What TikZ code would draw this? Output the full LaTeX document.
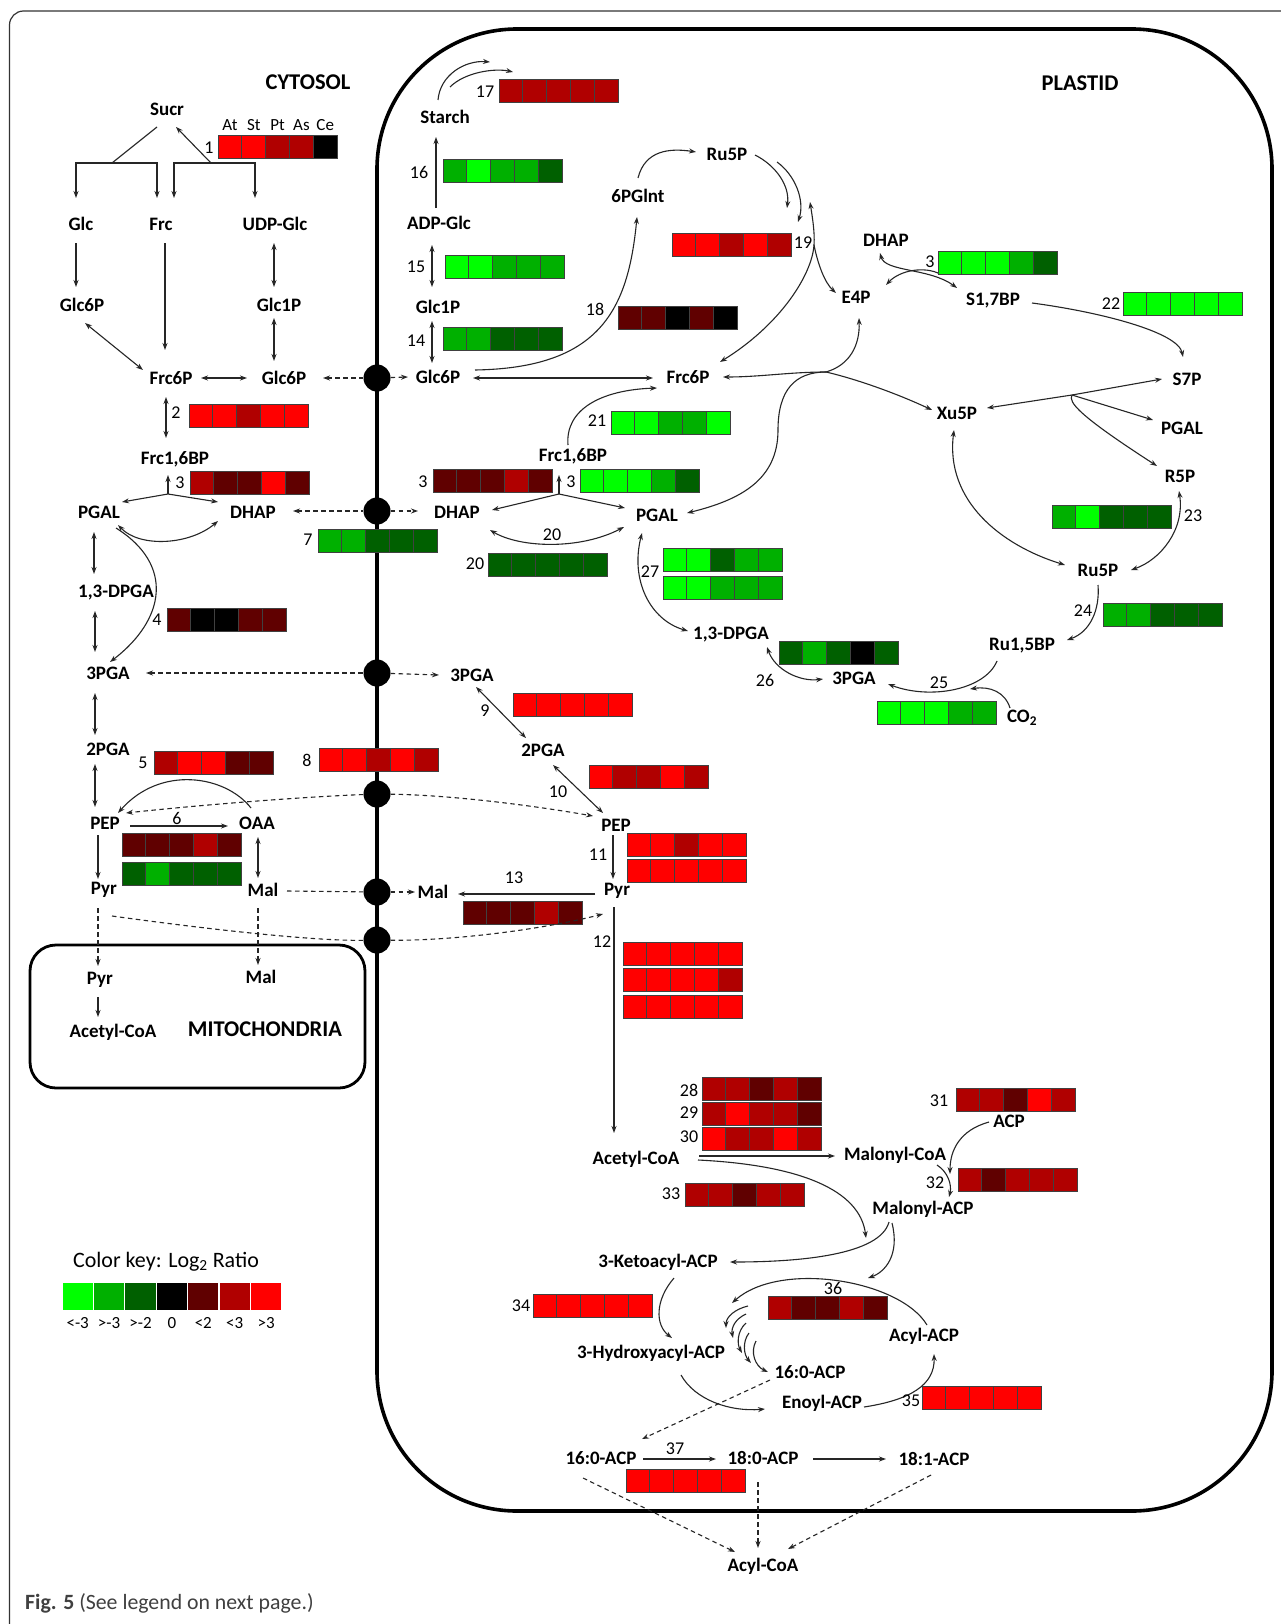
\documentclass[tikz,border=0pt]{standalone}
\usepackage{fontspec}
\setmainfont{Carlito}
\usetikzlibrary{arrows.meta,calc}
\definecolor{hG}{RGB}{0,255,0}
\definecolor{hg}{RGB}{0,176,0}
\definecolor{hd}{RGB}{0,96,0}
\definecolor{hK}{RGB}{0,0,0}
\definecolor{hD}{RGB}{96,0,0}
\definecolor{hr}{RGB}{176,0,0}
\definecolor{hR}{RGB}{255,0,0}
\newcommand{\heat}[3]{\foreach \hc [count=\hi from 0] in {#3}{\filldraw[fill=\hc,draw=black!75,line width=0.9pt] ({#1+\hi*23.8},{#2}) rectangle ++(23.8,23);}}
\newcommand{\mf}{\fontsize{19}{22}\selectfont\bfseries}
\newcommand{\nf}{\fontsize{18}{21}\selectfont}
\newcommand{\tf}{\fontsize{22.5}{26}\selectfont\bfseries}
\tikzset{
  met/.style={font=\mf, inner sep=2pt},
  num/.style={font=\nf, inner sep=0pt},
  ttl/.style={font=\tf, inner sep=0pt},
  ln/.style={draw=black!85, line width=1.1pt},
  arr/.style={ln, -{Stealth[length=7pt,width=5pt]}},
  arrB/.style={ln, {Stealth[length=7pt,width=5pt]}-{Stealth[length=7pt,width=5pt]}},
  arrR/.style={ln, {Stealth[length=7pt,width=5pt]}-},
  dsh/.style={dash pattern=on 4.5pt off 3.5pt},
  tport/.style={circle, fill=black, inner sep=0pt, minimum size=27pt},
}
\begin{document}
\begin{tikzpicture}[x=1pt,y=-1pt]
\useasboundingbox (0,0) rectangle (1281,1624);
\fill[white] (0,0) rectangle (1281,1624);
\begin{scope}
\clip (0,0) rectangle (1281,1624);
\draw[black!80,line width=1.2pt,rounded corners=14pt] (9.5,11) rectangle (1320,1645);
\end{scope}
% compartments
\draw[line width=3.6pt, rounded corners=140pt] (377,29) rectangle (1272,1511);
\draw[line width=2.8pt, rounded corners=26pt] (30,945) rectangle (365,1088);
\node[tport] (t1) at (377,378) {};
\node[tport] (t2) at (377,511) {};
\node[tport] (t3) at (377,673) {};
\node[tport] (t4) at (377,794) {};
\node[tport] (t5) at (377,892) {};
\node[tport] (t6) at (377,940) {};
% titles
\node[ttl] (cyt) at (308,82) {CYTOSOL};
\node[ttl] (pla) at (1080,83) {PLASTID};
\node[ttl] (mit) at (265,1029) {MITOCHONDRIA};
% cytosol metabolites
\node[met] (sucr) at (167,109) {Sucr};
\node[met] (glc) at (81,224) {Glc};
\node[met] (frc) at (161,224) {Frc};
\node[met] (udpglc) at (275,224) {UDP-Glc};
\node[met] (glc6pL) at (82,305) {Glc6P};
\node[met] (glc1pC) at (279,305) {Glc1P};
\node[met] (frc6pC) at (171,378) {Frc6P};
\node[met] (glc6pC) at (284,378) {Glc6P};
\node[met] (frcbpC) at (175,459) {Frc1,6BP};
\node[met] (pgalC) at (99,512) {PGAL};
\node[met] (dhapC) at (253,512) {DHAP};
\node[met] (dpgaC) at (116,593) {1,3-DPGA};
\node[met] (pgaC3) at (108,673) {3PGA};
\node[met] (pgaC2) at (108,749) {2PGA};
\node[met] (pepC) at (105,823) {PEP};
\node[met] (oaa) at (257,823) {OAA};
\node[met] (pyrC) at (104,890) {Pyr};
\node[met] (malC) at (263,890) {Mal};
\node[met] (pyrM) at (100,980) {Pyr};
\node[met] (malM) at (261,977) {Mal};
\node[met] (accoaM) at (113,1032) {Acetyl-CoA};
% plastid metabolites
\node[met] (starch) at (445,117) {Starch};
\node[met] (adpglc) at (439,223) {ADP-Glc};
\node[met] (glc1pP) at (438,307) {Glc1P};
\node[met] (glc6pP) at (438,377) {Glc6P};
\node[met] (frc6pP) at (688,377) {Frc6P};
\node[met] (pglnt) at (638,196) {6PGlnt};
\node[met] (ru5pU) at (727,154) {Ru5P};
\node[met] (e4p) at (856,297) {E4P};
\node[met] (dhapU) at (886,240) {DHAP};
\node[met] (s17bp) at (993,301) {S1,7BP};
\node[met] (s7p) at (1187,379) {S7P};
\node[met] (xu5p) at (957,413) {Xu5P};
\node[met] (pgalR) at (1182,428) {PGAL};
\node[met] (r5p) at (1180,476) {R5P};
\node[met] (ru5pL) at (1098,570) {Ru5P};
\node[met] (rubp) at (1022,646) {Ru1,5BP};
\node[met] (dpgaP) at (731,635) {1,3-DPGA};
\node[met] (pgaR) at (854,678) {3PGA};
\node[met] (co2) at (1022,718) {CO\textsubscript{2}};
\node[met] (frcbpP) at (573,456) {Frc1,6BP};
\node[met] (dhapP) at (457,512) {DHAP};
\node[met] (pgalP) at (657,515) {PGAL};
\node[met] (pgaP3) at (472,675) {3PGA};
\node[met] (pgaP2) at (543,750) {2PGA};
\node[met] (pepP) at (616,825) {PEP};
\node[met] (pyrP) at (617,891) {Pyr};
\node[met] (malP) at (433,892) {Mal};
\node[met] (accoaP) at (636,1159) {Acetyl-CoA};
\node[met] (malcoa) at (895,1155) {Malonyl-CoA};
\node[met] (acp) at (1009,1121) {ACP};
\node[met] (malacp) at (923,1209) {Malonyl-ACP};
\node[met] (keto) at (658,1262) {3-Ketoacyl-ACP};
\node[met] (hydroxy) at (651,1353) {3-Hydroxyacyl-ACP};
\node[met] (palm) at (810,1372) {16:0-ACP};
\node[met] (enoyl) at (822,1403) {Enoyl-ACP};
\node[met] (acylacp) at (924,1336) {Acyl-ACP};
\node[met] (palmL) at (601,1458) {16:0-ACP};
\node[met] (stear) at (763,1458) {18:0-ACP};
\node[met] (olei) at (934,1459) {18:1-ACP};
\node[met] (acylcoa) at (763,1566) {Acyl-CoA};
% ---------------- cytosol connectors
\coordinate (jL) at (112,163);
\coordinate (jR) at (211,163);
\draw[ln] ($(sucr)+(-10,18)$) -- (jL);
\draw[arr] (jL) -| ($(glc)+(-5,-26)$);
\draw[arr] (jL) -| ($(frc)+(-4,-26)$);
\draw[arr] (jR) -- ($(sucr)+(9,18)$);
\draw[arr] (jR) -| ($(frc)+(13,-26)$);
\draw[arr] (jR) -| ($(udpglc)+(-20,-26)$);
\draw[arr] ($(glc)+(-5,19)$) -- ($(glc6pL)+(-6,-18)$);
\draw[arr] ($(frc)+(4,19)$) -- ($(frc6pC)+(-6,-28)$);
\draw[arrB] ($(udpglc)+(-1,19)$) -- ($(glc1pC)+(-5,-18)$);
\draw[arrB] ($(glc1pC)+(-5,13)$) -- ($(glc6pC)+(-10,-17)$);
\draw[arrB] ($(glc6pL)+(3,18)$) -- ($(frc6pC)+(-28,-8)$);
\draw[arrB] ($(frc6pC)+(30,0)$) -- ($(glc6pC)+(-37,0)$);
\draw[arrR,dsh] ($(glc6pC)+(39,0)$) -- (t1);
\draw[arr,dsh] (t1) -- ($(glc6pP)+(-30,0)$);
\draw[arrB] ($(frc6pC)+(-5,19)$) -- ($(frcbpC)+(-9,-21)$);
\coordinate (jA) at (168,494);
\draw[arr] (jA) -- ($(frcbpC)+(-7,16)$);
\draw[arr] (jA) -- ($(pgalC)+(23,-10)$);
\draw[arr] (jA) -- ($(dhapC)+(-35,-10)$);
\draw[arrB] ($(pgalC)+(19,13)$) .. controls (140,548) and (190,545) .. ($(dhapC)+(-35,9)$);
\draw[arrB] ($(pgalC)+(-5,20)$) -- ($(dpgaC)+(-22,-19)$);
\draw[arrB] ($(dpgaC)+(-21,18)$) -- ($(pgaC3)+(-13,-21)$);
\draw[arr] ($(pgalC)+(17,16)$) .. controls (175,565) and (165,620) .. ($(pgaC3)+(2,-11)$);
\draw[arrR,dsh] ($(dhapC)+(40,-1)$) -- (t2);
\draw[arr,dsh] (t2) -- ($(dhapP)+(-39,-1)$);
\draw[arrR,dsh] ($(pgaC3)+(38,0)$) -- (t3);
\draw[arr,dsh] (t3) -- ($(pgaP3)+(-33,0)$);
\draw[arrB] ($(pgaC3)+(-13,20)$) -- ($(pgaC2)+(-13,-14)$);
\draw[arrB] ($(pgaC2)+(-13,15)$) -- ($(pepC)+(-10,-16)$);
\draw[arr] ($(pepC)+(25,3)$) -- ($(oaa)+(-29,3)$);
\draw[arr] ($(oaa)+(-6,-15)$) .. controls (225,775) and (160,765) .. ($(pepC)+(13,-10)$);
\draw[arr,dsh] (t4) .. controls (300,797) and (200,805) .. ($(pepC)+(21,-10)$);
\draw[arr,dsh] (t4) .. controls (450,795) and (530,805) .. ($(pepP)+(-23,-9)$);
\draw[arrB] ($(oaa)+(1,14)$) -- ($(malC)+(-5,-12)$);
\draw[arr] ($(pepC)+(-7,12)$) -- ($(pyrC)+(-6,-11)$);
\draw[ln,dsh] ($(malC)+(24,1)$) -- (t5);
\draw[arr,dsh] (t5) -- ($(malP)+(-18,0)$);
\draw[arr,dsh] ($(pyrC)+(-6,18)$) -- ($(pyrM)+(-2,-14)$);
\draw[arr] ($(pyrM)+(-2,17)$) -- ($(accoaM)+(-15,-15)$);
\draw[arr,dsh] ($(malC)+(-5,18)$) -- ($(malM)+(-3,-12)$);
\draw[ln,dsh] ($(pyrC)+(8,26)$) .. controls (250,935) and (330,941) .. (t6);
% ---------------- plastid connectors
\draw[arr] ($(adpglc)+(-3,-15)$) -- ($(starch)+(-9,20)$);
\coordinate (s17a) at (490,62);
\coordinate (s17b) at (513,72);
\draw[arr] ($(starch)+(-7,-17)$) .. controls (440,75) and (465,60) .. (s17a);
\draw[arr] ($(starch)+(5,-30)$) .. controls (465,72) and (495,68) .. (s17b);
\draw[arrB] ($(adpglc)+(-7,22)$) -- ($(glc1pP)+(-6,-20)$);
\draw[arrB] ($(glc1pP)+(-6,14)$) -- ($(glc6pP)+(-6,-14)$);
\draw[arrB] ($(glc6pP)+(35,1)$) -- ($(frc6pP)+(-35,1)$);
\draw[arr] ($(glc6pP)+(37,-7)$) .. controls (600,368) and (628,310) .. ($(pglnt)+(-1,21)$);
\draw[arr] ($(pglnt)+(0,-18)$) .. controls (645,150) and (670,148) .. ($(ru5pU)+(-31,-2)$);
\coordinate (c19a) at (787,208);
\coordinate (c19b) at (798,222);
\coordinate (c19c) at (810,202);
\draw[arr] ($(ru5pU)+(28,1)$) .. controls (775,165) and (790,185) .. (c19a);
\draw[arr] ($(ru5pU)+(50,8)$) .. controls (795,175) and (805,200) .. (c19b);
\coordinate (J2) at (814,245);
\draw[arr] (J2) .. controls (815,232) and (812,215) .. (c19c);
\draw[arr] (J2) .. controls (812,275) and (780,325) .. ($(frc6pP)+(32,-15)$);
\draw[arr] (J2) .. controls (818,265) and (825,283) .. ($(e4p)+(-20,-4)$);
\coordinate (J1) at (826,372);
\draw[arr] (J1) .. controls (790,372) and (760,377) .. ($(frc6pP)+(35,0)$);
\draw[arr] (J1) .. controls (860,380) and (900,395) .. ($(xu5p)+(-25,-3)$);
\draw[arr] (J1) .. controls (850,365) and (860,345) .. ($(e4p)+(3,21)$);
\draw[arr] (J1) .. controls (795,372) and (778,390) .. (778,430) .. controls (778,480) and (740,500) .. ($(pgalP)+(30,-2)$);
\draw[arrB] ($(dhapU)+(-6,13)$) .. controls (885,272) and (930,268) .. ($(s17bp)+(-36,-13)$);
\coordinate (c3u) at (940,274);
\draw[arrR] ($(e4p)+(30,-12)$) .. controls (900,270) and (925,266) .. (c3u);
\draw[arr] ($(s17bp)+(39,2)$) .. controls (1100,312) and (1178,332) .. ($(s7p)+(-4,-22)$);
\coordinate (J3) at (1072,395);
\draw[arrB] ($(xu5p)+(30,-5)$) -- (J3) -- ($(s7p)+(-25,0)$);
\draw[arr] (J3) -- ($(pgalR)+(-29,-8)$);
\draw[arr] (J3) .. controls (1068,402) and (1078,415) .. ($(r5p)+(-23,-10)$);
\draw[arrB] ($(r5p)+(-1,15)$) .. controls (1185,530) and (1160,560) .. ($(ru5pL)+(33,0)$);
\draw[arrB] ($(xu5p)+(-3,17)$) .. controls (945,500) and (1000,545) .. ($(ru5pL)+(-33,-5)$);
\draw[arr] ($(ru5pL)+(0,15)$) .. controls (1100,610) and (1090,632) .. ($(rubp)+(45,-6)$);
\draw[arr] ($(rubp)+(-25,15)$) .. controls (985,690) and (930,700) .. ($(pgaR)+(34,6)$);
\coordinate (c25) at (970,689);
\draw[arr] ($(co2)+(-12,-10)$) .. controls (1005,692) and (990,686) .. (c25);
\draw[arrB] ($(dpgaP)+(36,12)$) .. controls (775,670) and (800,682) .. ($(pgaR)+(-31,1)$);
\coordinate (jP) at (559,494);
\draw[arr] (jP) -- ($(frcbpP)+(-14,19)$);
\draw[arr] (jP) -- ($(dhapP)+(35,-2)$);
\draw[arr] (jP) -- ($(pgalP)+(-32,-7)$);
\draw[arr] ($(frcbpP)+(-5,-11)$) .. controls (565,410) and (600,390) .. ($(frc6pP)+(-31,11)$);
\draw[arrB] ($(dhapP)+(33,18)$) .. controls (520,548) and (580,550) .. ($(pgalP)+(-33,12)$);
\draw[arrB] ($(pgalP)+(-15,18)$) .. controls (630,580) and (650,620) .. ($(dpgaP)+(-43,-4)$);
\draw[arrB] ($(pgaP3)+(4,12)$) -- ($(pgaP2)+(-17,-12)$);
\draw[arrB] ($(pgaP2)+(10,15)$) -- ($(pepP)+(-13,-12)$);
\draw[arr] ($(pepP)+(-3,10)$) -- ($(pyrP)+(-4,-12)$);
\draw[arr] ($(pyrP)+(-22,3)$) -- ($(malP)+(25,2)$);
\draw[arr] ($(pyrP)+(-3,16)$) -- ($(accoaP)+(-22,-26)$);
\draw[arr] ($(accoaP)+(63,-3)$) -- ($(malcoa)+(-60,1)$);
\draw[arr] ($(acp)+(-20,1)$) .. controls (960,1130) and (950,1150) .. ($(malacp)+(27,-35)$);
\draw[arr] ($(malcoa)+(42,10)$) .. controls (948,1172) and (952,1185) .. ($(malacp)+(26,-12)$);
\coordinate (cK) at (866,1238);
\coordinate (cC) at (868,1278);
\draw[arr] ($(accoaP)+(62,1)$) .. controls (800,1165) and (860,1190) .. (cK);
\draw[arr] ($(malacp)+(-34,13)$) .. controls (880,1255) and (800,1262) .. ($(keto)+(72,0)$);
\draw[arr] ($(malacp)+(-31,14)$) .. controls (900,1255) and (885,1272) .. (cC);
\draw[arr] ($(keto)+(16,16)$) .. controls (655,1300) and (655,1325) .. ($(hydroxy)+(21,-15)$);
\draw[arr] ($(hydroxy)+(30,22)$) .. controls (695,1400) and (730,1412) .. ($(enoyl)+(-57,6)$);
\draw[arr] ($(enoyl)+(42,4)$) .. controls (910,1400) and (935,1385) .. ($(acylacp)+(10,18)$);
\coordinate (cF) at (732,1303);
\draw[arr] ($(acylacp)+(3,-11)$) .. controls (900,1280) and (780,1260) .. (cF);
\draw[arr] (748,1306) .. controls (735,1309) and (726,1317) .. (726,1328);
\draw[arr] (746,1314) .. controls (735,1319) and (731,1328) .. (733,1338);
\draw[arr] (746,1323) .. controls (737,1331) and (737,1344) .. (742,1353);
\draw[arr] (749,1333) .. controls (742,1342) and (744,1355) .. (751,1363);
\draw[arr] (756,1341) .. controls (750,1352) and (755,1366) .. ($(palm)+(-42,0)$);
\draw[arr,dsh] ($(palm)+(-40,8)$) -- ($(palmL)+(41,-19)$);
\draw[arr] ($(palmL)+(42,1)$) -- ($(stear)+(-47,1)$);
\draw[arr] ($(stear)+(50,1)$) -- ($(olei)+(-48,0)$);
\draw[arr,dsh] ($(palmL)+(-18,20)$) -- ($(acylcoa)+(-28,-14)$);
\draw[arr,dsh] ($(stear)+(-5,24)$) -- ($(acylcoa)+(-5,-18)$);
\draw[arr,dsh] ($(olei)+(-3,16)$) -- ($(acylcoa)+(25,-17)$);
% ---------------- heat boxes
\heat{218}{135}{hR,hR,hr,hr,hK}
\heat{189}{404}{hR,hR,hr,hR,hR}
\heat{190}{471}{hr,hD,hD,hR,hD}
\heat{167}{608}{hD,hK,hK,hD,hD}
\heat{154}{751}{hr,hR,hR,hD,hD}
\heat{122}{833}{hD,hD,hD,hr,hD}
\heat{122}{862}{hd,hg,hd,hd,hd}
\heat{318}{529}{hg,hg,hd,hd,hd}
\heat{319}{748}{hR,hR,hr,hR,hr}
\heat{499}{79}{hr,hr,hr,hr,hr}
\heat{443}{159}{hg,hG,hg,hg,hd}
\heat{445}{255}{hG,hG,hg,hg,hg}
\heat{443}{327}{hg,hg,hd,hd,hd}
\heat{618}{306}{hD,hD,hK,hD,hK}
\heat{672}{233}{hR,hR,hr,hR,hr}
\heat{938}{251}{hG,hG,hG,hg,hd}
\heat{1123}{292}{hG,hG,hG,hG,hG}
\heat{611}{411}{hG,hG,hg,hg,hG}
\heat{433}{469}{hD,hD,hD,hr,hD}
\heat{580}{469}{hG,hG,hG,hg,hd}
\heat{488}{553}{hd,hd,hd,hd,hd}
\heat{663}{548}{hG,hG,hd,hg,hg}
\heat{663}{576}{hG,hG,hg,hg,hg}
\heat{1052}{505}{hg,hG,hd,hd,hd}
\heat{1103}{603}{hg,hg,hd,hd,hd}
\heat{779}{641}{hd,hg,hd,hK,hd}
\heat{877}{701}{hG,hG,hG,hg,hg}
\heat{513}{693}{hR,hR,hR,hR,hR}
\heat{589}{765}{hR,hr,hr,hR,hr}
\heat{627}{833}{hR,hR,hr,hR,hR}
\heat{627}{859}{hR,hR,hR,hR,hR}
\heat{463}{901}{hD,hD,hD,hr,hD}
\heat{623}{942}{hR,hR,hR,hR,hR}
\heat{623}{968}{hR,hR,hR,hR,hr}
\heat{623}{995}{hR,hR,hR,hR,hR}
\heat{702}{1077}{hr,hr,hD,hr,hD}
\heat{702}{1102}{hr,hR,hr,hr,hD}
\heat{702}{1127}{hR,hr,hr,hR,hr}
\heat{956}{1088}{hr,hr,hD,hR,hr}
\heat{958}{1168}{hr,hD,hr,hr,hr}
\heat{685}{1183}{hr,hr,hD,hr,hr}
\heat{533}{1294}{hR,hR,hR,hR,hR}
\heat{922}{1386}{hR,hR,hR,hR,hR}
\heat{768}{1296}{hr,hD,hD,hr,hD}
\heat{626}{1469}{hR,hR,hR,hR,hR}
% dashed pyruvate import drawn over box 13
\draw[arr,dsh] (t6) .. controls (450,941) and (540,930) .. ($(pyrP)+(-14,23)$);
% column header
\foreach \lab [count=\i from 0] in {At,St,Pt,As,Ce}
  \node[font=\fontsize{17}{20}\selectfont, inner sep=0pt] (hdr\i) at ({230+\i*23.8},125) {\lab};
% numbers
\node[num] (n1) at (209,148) {1};
\node[num] (n2) at (176,413) {2};
\node[num] (n3a) at (180,483) {3};
\node[num] (n4) at (157,620) {4};
\node[num] (n5) at (143,763) {5};
\node[num] (n6) at (177,818) {6};
\node[num] (n7) at (308,540) {7};
\node[num] (n8) at (307,760) {8};
\node[num] (n17) at (485,92) {17};
\node[num] (n16) at (419,172) {16};
\node[num] (n15) at (416,267) {15};
\node[num] (n14) at (416,341) {14};
\node[num] (n18) at (595,309) {18};
\node[num] (n19) at (803,243) {19};
\node[num] (n3b) at (930,262) {3};
\node[num] (n22) at (1111,304) {22};
\node[num] (n21) at (597,421) {21};
\node[num] (n3c) at (423,482) {3};
\node[num] (n3d) at (571,482) {3};
\node[num] (n20a) at (552,535) {20};
\node[num] (n20b) at (475,564) {20};
\node[num] (n27) at (650,572) {27};
\node[num] (n23) at (1193,516) {23};
\node[num] (n24) at (1083,611) {24};
\node[num] (n26) at (765,680) {26};
\node[num] (n25) at (939,683) {25};
\node[num] (n9) at (485,711) {9};
\node[num] (n10) at (558,792) {10};
\node[num] (n11) at (598,855) {11};
\node[num] (n13) at (514,878) {13};
\node[num] (n12) at (602,942) {12};
\node[num] (n28) at (689,1090) {28};
\node[num] (n29) at (689,1113) {29};
\node[num] (n30) at (689,1137) {30};
\node[num] (n31) at (939,1101) {31};
\node[num] (n32) at (935,1183) {32};
\node[num] (n33) at (671,1194) {33};
\node[num] (n34) at (521,1306) {34};
\node[num] (n36) at (833,1288) {36};
\node[num] (n35) at (911,1401) {35};
\node[num] (n37) at (675,1449) {37};
% colour key
\node[font=\fontsize{22}{26}\selectfont, inner sep=0pt] (keyt) at (166,1262) {Color key: Log\textsubscript{2} Ratio};
\foreach \kc/\kl [count=\i from 0] in {hG/{<-3},hg/{>-3},hd/{>-2},hK/0,hD/{<2},hr/{<3},hR/{>3}}{
  \fill[\kc] ({62+\i*31.4+0.6},1283) rectangle ++(30.2,27);
  \node[font=\fontsize{17}{20}\selectfont, inner sep=0pt] (kl\i) at ({62+\i*31.4+15.7},1323) {\kl};
}
% caption
\node[anchor=west, font=\fontsize{21.8}{26}\selectfont, text=black!75, inner sep=0pt] (cap) at (25,1603) {\textbf{Fig. 5} (See legend on next page.)};
\end{tikzpicture}
\end{document}
